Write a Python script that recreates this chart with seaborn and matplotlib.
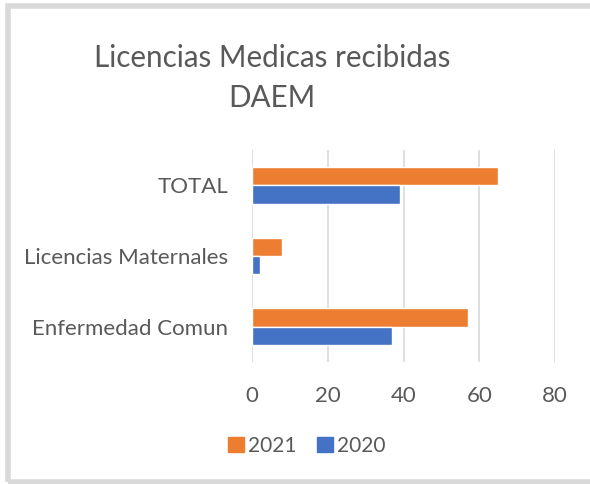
import matplotlib
matplotlib.use("Agg")
import matplotlib.pyplot as plt
import matplotlib.patches as mpatches
import pandas as pd
import seaborn as sns

# data
categories = ["TOTAL", "Licencias Maternales", "Enfermedad Comun"]
values_2021 = [65, 8, 57]
values_2020 = [39, 2, 37]
years = ["2021", "2020"]
colors = {"2021": "#ED7D31", "2020": "#4472C4"}

df = pd.DataFrame({
    "categoria": categories * 2,
    "valor": values_2021 + values_2020,
    "anio": ["2021"] * 3 + ["2020"] * 3,
})

sns.set_style("white")
plt.rcParams["font.family"] = ["Lato", "DejaVu Sans"]
text_color = "#595959"

fig = plt.figure(figsize=(5.9, 4.84), dpi=100)
ax = fig.add_axes([252 / 590, 1 - 362 / 484, 303 / 590, 212 / 484])

sns.barplot(data=df, x="valor", y="categoria", hue="anio", order=categories,
            hue_order=years, palette=colors, orient="h", width=0.52,
            saturation=1, ax=ax)

ax.set_xlim(0, 80)
ax.set_xticks([0, 20, 40, 60, 80])
ax.grid(axis="x", color="#d9d9d9", linewidth=1.2)
ax.set_axisbelow(True)
for s in ax.spines.values():
    s.set_visible(False)
ax.set_xlabel("")
ax.set_ylabel("")
ax.tick_params(axis="both", length=0, labelsize=16, colors=text_color)
ax.tick_params(axis="x", pad=17)
ax.tick_params(axis="y", pad=17)

ax.legend_.remove()
handles = [mpatches.Patch(color=colors[y], label=y) for y in years]
fig.legend(handles=handles, loc="center", bbox_to_anchor=(307 / 590, 1 - 446 / 484),
           ncol=2, frameon=False, fontsize=15, handlelength=0.75, handleheight=0.75,
           columnspacing=1.0, handletextpad=0.2, labelcolor=text_color)

fig.text(272 / 590, 1 - 78 / 484, "Licencias Medicas recibidas\nDAEM", ha="center",
         va="center", fontsize=21.3, color=text_color, linespacing=1.55)

# chart border
fig.patches.append(mpatches.Rectangle((8 / 590, 2 / 484), 1.0, 476 / 484,
                                      transform=fig.transFigure, fill=False,
                                      edgecolor="#d9d9d9", linewidth=4))

fig.savefig("out.png", dpi=100)
